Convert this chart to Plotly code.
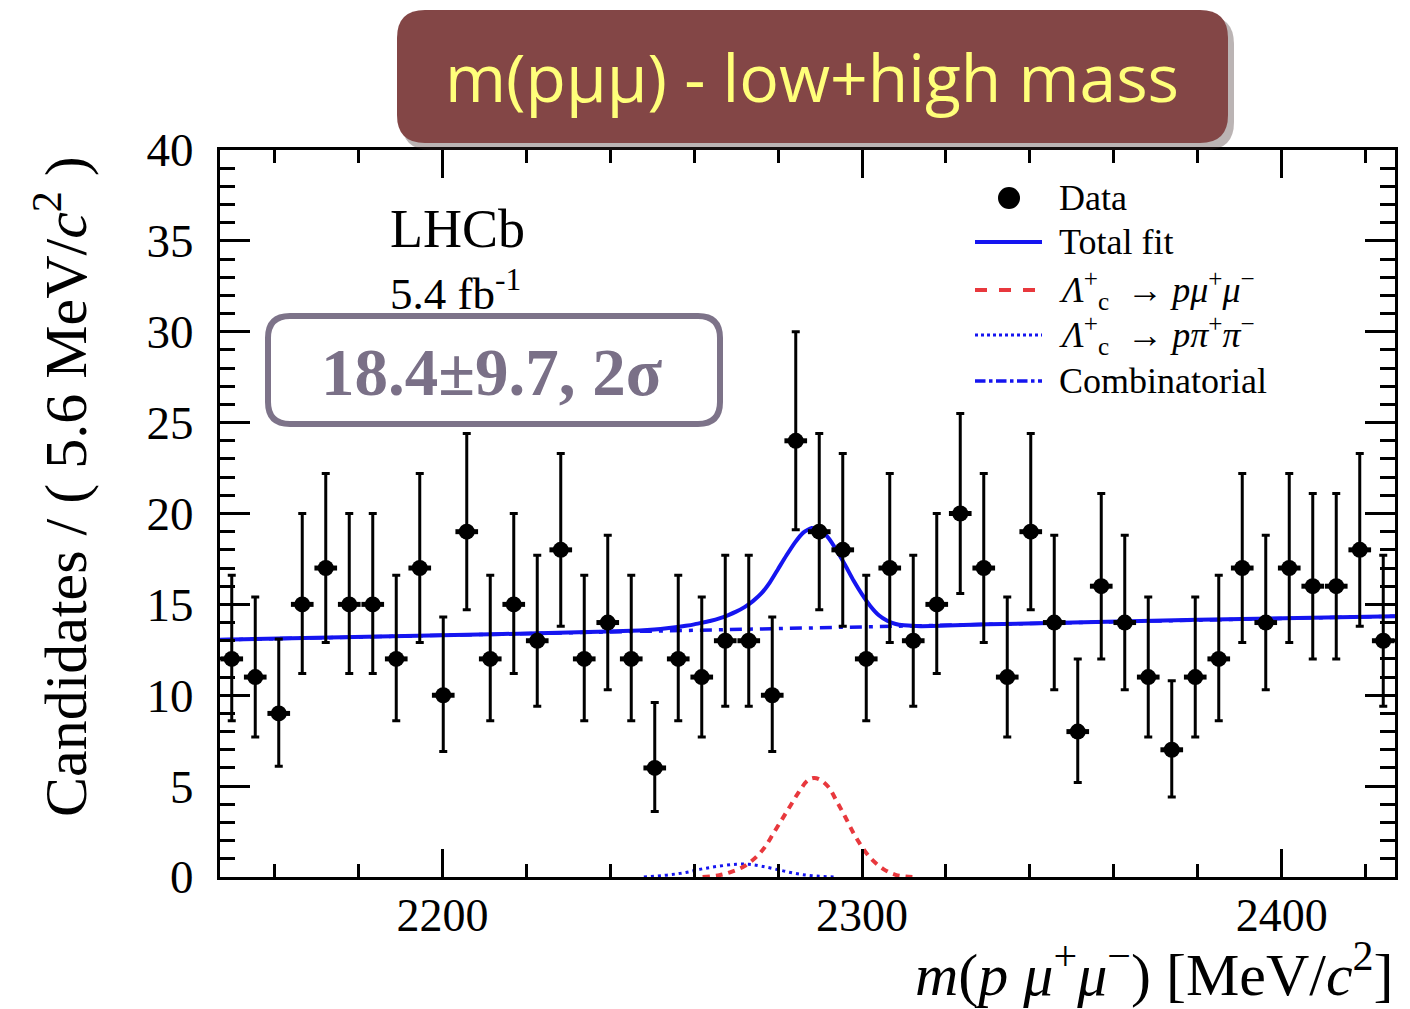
import plotly.graph_objects as go

# ---- histogram of m(p mu+ mu-) : 50 bins of 5.6 MeV between 2147 and 2427 ----
bin_lo = 2147.0
bin_width = 5.6
counts = [12, 11, 9, 15, 17, 15, 15, 12, 17, 10,
          19, 12, 15, 13, 18, 12, 14, 12, 6, 12,
          11, 13, 13, 10, 24, 19, 18, 12, 17, 13,
          15, 20, 17, 11, 19, 14, 8, 16, 14, 11,
          7, 11, 12, 17, 14, 17, 16, 16, 18, 13]
err_up = [4.6, 4.4, 4.1, 5.0, 5.2, 5.0, 5.0, 4.6, 5.2, 4.3,
          5.4, 4.6, 5.0, 4.7, 5.3, 4.6, 4.8, 4.6, 3.6, 4.6,
          4.4, 4.7, 4.7, 4.3, 6.0, 5.4, 5.3, 4.6, 5.2, 4.7,
          5.0, 5.5, 5.2, 4.4, 5.4, 4.8, 4.0, 5.1, 4.8, 4.4,
          3.8, 4.4, 4.6, 5.2, 4.8, 5.2, 5.1, 5.1, 5.3, 4.7]
err_dn = [3.4, 3.3, 2.9, 3.8, 4.1, 3.8, 3.8, 3.4, 4.1, 3.1,
          4.3, 3.4, 3.8, 3.6, 4.2, 3.4, 3.7, 3.4, 2.4, 3.4,
          3.3, 3.6, 3.6, 3.1, 4.9, 4.3, 4.2, 3.4, 4.1, 3.6,
          3.8, 4.4, 4.1, 3.3, 4.3, 3.7, 2.8, 4.0, 3.7, 3.3,
          2.6, 3.3, 3.4, 4.1, 3.7, 4.1, 4.0, 4.0, 4.2, 3.6]
bin_centers = [bin_lo + bin_width * (i + 0.5) for i in range(len(counts))]

# ---- fit components ----
total_x = [2147, 2200, 2230, 2245, 2252, 2256, 2258, 2260, 2262, 2264, 2266, 2268,
           2270, 2272, 2274, 2276, 2278, 2280, 2282, 2284, 2286, 2288, 2290, 2292,
           2294, 2296, 2298, 2300, 2302, 2304, 2306, 2308, 2310, 2314, 2330, 2380, 2427]
total_y = [13.05, 13.3, 13.45, 13.55, 13.65, 13.75, 13.82, 13.9, 14.0, 14.1, 14.23, 14.4,
           14.6, 14.85, 15.18, 15.6, 16.2, 16.95, 17.7, 18.4, 18.95, 19.2, 19.1, 18.65,
           17.95, 17.15, 16.3, 15.55, 14.9, 14.4, 14.1, 13.92, 13.85, 13.8, 13.9, 14.15, 14.35]

sig_x = [2262, 2266, 2269, 2272, 2275, 2277, 2279, 2281, 2283, 2285, 2287, 2288.5,
         2290, 2292, 2294, 2296, 2298, 2300, 2302, 2305, 2308, 2312]
sig_y = [0.0, 0.1, 0.3, 0.6, 1.15, 1.7, 2.45, 3.2, 3.95, 4.7, 5.3, 5.45,
         5.35, 4.95, 4.15, 3.3, 2.4, 1.65, 1.05, 0.45, 0.12, 0.0]

misid_x = [2248, 2254, 2258, 2262, 2266, 2270, 2273, 2276, 2280, 2284, 2288, 2294]
misid_y = [0.0, 0.12, 0.25, 0.45, 0.6, 0.7, 0.7, 0.6, 0.4, 0.2, 0.07, 0.0]

comb_x = [2147, 2427]
comb_y = [13.05, 14.35]

x_range = [2147, 2427]
y_range = [0, 40]

# ---- page geometry (pixels) ----
W, H = 1410, 1009
ML, MR, MT, MB = 220, 15, 150, 132
PW, PH = W - ML - MR, H - MT - MB


def X(px):
    return (px - ML) / PW


def Y(py):
    return (H - MB - py) / PH


def rounded_rect(x0, y0, x1, y1, r):
    return (f"M {X(x0 + r)},{Y(y0)} L {X(x1 - r)},{Y(y0)} "
            f"Q {X(x1)},{Y(y0)} {X(x1)},{Y(y0 + r)} L {X(x1)},{Y(y1 - r)} "
            f"Q {X(x1)},{Y(y1)} {X(x1 - r)},{Y(y1)} L {X(x0 + r)},{Y(y1)} "
            f"Q {X(x0)},{Y(y1)} {X(x0)},{Y(y1 - r)} L {X(x0)},{Y(y0 + r)} "
            f"Q {X(x0)},{Y(y0)} {X(x0 + r)},{Y(y0)} Z")


SERIF = "Liberation Serif, Times New Roman, serif"
BLUE = "#1515f0"
RED = "#e8383d"
BOX_GREY = "#7d7389"

fig = go.Figure()

fig.add_trace(go.Scatter(x=comb_x, y=comb_y, mode="lines",
                         line=dict(color=BLUE, width=3.5, dash="12px,7px,4px,7px"),
                         hoverinfo="skip"))
fig.add_trace(go.Scatter(x=misid_x, y=misid_y, mode="lines",
                         line=dict(color=BLUE, width=3, dash="3px,4px", shape="spline"),
                         hoverinfo="skip"))
fig.add_trace(go.Scatter(x=sig_x, y=sig_y, mode="lines",
                         line=dict(color=RED, width=4, dash="7px,6px", shape="spline"),
                         hoverinfo="skip"))
fig.add_trace(go.Scatter(x=total_x, y=total_y, mode="lines",
                         line=dict(color=BLUE, width=4, shape="spline", smoothing=0.6),
                         hoverinfo="skip"))
fig.add_trace(go.Scatter(
    x=bin_centers, y=counts, mode="markers",
    marker=dict(color="black", size=16, symbol="circle"),
    error_y=dict(type="data", symmetric=False, array=err_up, arrayminus=err_dn,
                 color="black", thickness=3, width=4),
    error_x=dict(type="constant", value=2.7, color="black", thickness=5, width=0),
))

axis_common = dict(
    showline=True, linecolor="black", linewidth=3, mirror="allticks",
    ticks="inside", tickcolor="black", tickwidth=3,
    showgrid=False, zeroline=False, automargin=False,
)

fig.update_xaxes(range=x_range, tickvals=[2200, 2300, 2400], ticklen=28,
                 tickfont=dict(family=SERIF, size=46, color="black"),
                 ticklabelstandoff=-4,
                 minor=dict(dtick=20, tick0=2200, ticklen=13, tickwidth=3,
                            ticks="inside", tickcolor="black"),
                 **axis_common)
fig.update_yaxes(range=y_range, tickvals=[0, 5, 10, 15, 20, 25, 30, 35, 40], ticklen=30,
                 tickfont=dict(family=SERIF, size=47, color="black"),
                 ticklabelstandoff=14,
                 minor=dict(dtick=1, tick0=0, ticklen=15, tickwidth=3,
                            ticks="inside", tickcolor="black"),
                 **axis_common)

shapes = []
annotations = []

# title banner with a soft drop shadow
shapes.append(dict(type="path", xref="paper", yref="paper",
                   path=rounded_rect(402, 16, 1234, 150, 28),
                   fillcolor="rgba(60,40,40,0.35)", line=dict(width=0), layer="above"))
shapes.append(dict(type="path", xref="paper", yref="paper",
                   path=rounded_rect(397, 10, 1228, 143, 28),
                   fillcolor="#834646", line=dict(width=0), layer="above"))
annotations.append(dict(xref="paper", yref="paper", x=X(812), y=Y(76),
                        text="m(pμμ) - low+high mass", showarrow=False,
                        xanchor="center", yanchor="middle",
                        font=dict(family="Open Sans, Noto Sans, sans-serif", size=66,
                                  color="#ffff7a")))

# signal yield box
shapes.append(dict(type="path", xref="paper", yref="paper",
                   path=rounded_rect(268, 316, 720, 424, 22),
                   fillcolor="white", line=dict(color=BOX_GREY, width=6), layer="above"))
annotations.append(dict(xref="paper", yref="paper", x=X(492), y=Y(372),
                        text="<b>18.4±9.7, 2σ</b>", showarrow=False,
                        xanchor="center", yanchor="middle",
                        font=dict(family=SERIF, size=67, color="#7a7087")))

# experiment label
annotations.append(dict(xref="paper", yref="paper", x=X(388), y=Y(229),
                        text="LHCb", showarrow=False, xanchor="left", yanchor="middle",
                        font=dict(family=SERIF, size=54, color="black")))
annotations.append(dict(xref="paper", yref="paper", x=X(388), y=Y(290),
                        text="5.4 fb<sup>-1</sup>", showarrow=False,
                        xanchor="left", yanchor="middle",
                        font=dict(family=SERIF, size=45, color="black")))

# legend
leg_x0, leg_x1, leg_tx = 975, 1042, 1057
rows = [198, 242, 290, 335, 381]
shapes.append(dict(type="circle", xref="paper", yref="paper",
                   x0=X(998), x1=X(1020), y0=Y(rows[0] + 11), y1=Y(rows[0] - 11),
                   fillcolor="black", line=dict(color="black", width=0), layer="above"))
legend_lines = [
    (rows[1], BLUE, 4, "solid"),
    (rows[2], RED, 4, "dash"),
    (rows[3], BLUE, 3, "dot"),
    (rows[4], BLUE, 3.5, "dashdot"),
]
for yy, col, wd, ds in legend_lines:
    shapes.append(dict(type="line", xref="paper", yref="paper",
                       x0=X(leg_x0), x1=X(leg_x1), y0=Y(yy), y1=Y(yy),
                       line=dict(color=col, width=wd, dash=ds), layer="above"))
legend_text = [
    "Data",
    "Total fit",
    "<i>Λ</i><sup>+</sup><sub>c</sub>  → <i>pμ</i><sup>+</sup><i>μ</i><sup>−</sup>",
    "<i>Λ</i><sup>+</sup><sub>c</sub>  → <i>pπ</i><sup>+</sup><i>π</i><sup>−</sup>",
    "Combinatorial",
]
for yy, txt in zip(rows, legend_text):
    annotations.append(dict(xref="paper", yref="paper", x=X(leg_tx), y=Y(yy),
                            text=txt, showarrow=False, xanchor="left", yanchor="middle",
                            font=dict(family=SERIF, size=36, color="black")))

# axis titles
annotations.append(dict(xref="paper", yref="paper", x=X(62), y=Y(487),
                        text="Candidates / ( 5.6 MeV/<i>c</i><sup>2</sup> )",
                        textangle=-90, showarrow=False,
                        xanchor="center", yanchor="middle",
                        font=dict(family=SERIF, size=60, color="black")))
annotations.append(dict(xref="paper", yref="paper", x=X(1396), y=Y(970),
                        text="<i>m</i>(<i>p μ</i><sup>+</sup><i>μ</i><sup>−</sup>) [MeV/<i>c</i><sup>2</sup>]",
                        showarrow=False, xanchor="right", yanchor="middle",
                        font=dict(family=SERIF, size=60, color="black")))

fig.update_layout(
    width=W, height=H,
    margin=dict(l=ML, r=MR, t=MT, b=MB, pad=0),
    paper_bgcolor="white", plot_bgcolor="white",
    showlegend=False,
    shapes=shapes, annotations=annotations,
)

fig.write_html("out.html")
